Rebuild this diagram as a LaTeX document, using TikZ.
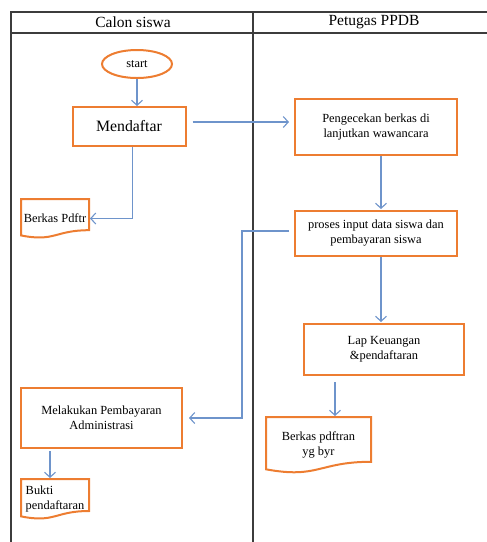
\documentclass[tikz,border=0pt]{standalone}
\usepackage{fontspec}
\setmainfont{Liberation Serif}
\usetikzlibrary{shapes.geometric,arrows.meta,calc}

\definecolor{flowOrange}{RGB}{237,125,49}
\definecolor{flowBlue}{RGB}{110,148,203}
\definecolor{laneGray}{RGB}{60,60,60}

% document symbol drawn round a named node
\newcommand{\docshape}[1]{%
  \draw[docline] (#1.north west) -- (#1.north east)
    -- ($(#1.north east)!0.80!(#1.south east)$)
    .. controls ($(#1.north)!0.80!(#1.south)$) and ($(#1.north)!1.107!(#1.south)$)
    .. ($(#1.north west)!0.934!(#1.south west)$) -- cycle;}

\begin{document}
\begin{tikzpicture}[x=1pt, y=-1pt,
    lane/.style={laneGray, line width=1.3pt},
    proc/.style={draw=flowOrange, line width=2pt, rectangle, align=center,
        font=\fontsize{12.4}{15}\selectfont, inner sep=2pt},
    terminal/.style={draw=flowOrange, line width=2pt, ellipse,
        font=\fontsize{12.4}{15}\selectfont, minimum width=70pt, minimum height=28pt, inner sep=0pt},
    doc/.style={rectangle, outer sep=0pt, inner sep=1pt, align=center,
        font=\fontsize{12.4}{15}\selectfont},
    docline/.style={draw=flowOrange, line width=2pt},
    flow/.style={flowBlue, line width=1.1pt, -{Straight Barb[length=5pt,width=11pt]}}]

    \useasboundingbox (0,0) rectangle (487,542);

    % Swimlanes
    \draw[lane] (11,542) -- (11,12) -- (487,12);
    \draw[lane] (11,33) -- (487,33);
    \draw[lane] (253,12) -- (253,542);
    \node[font=\fontsize{15.5}{18}\selectfont] (laneA) at (133,22) {Calon siswa};
    \node[font=\fontsize{15.5}{18}\selectfont] (laneB) at (374,22) {Petugas PPDB};

    % Calon siswa
    \node[terminal] (start) at (137,64) {start};
    \node[proc, minimum width=113pt, minimum height=39pt,
        font=\fontsize{15.8}{18}\selectfont] (daftar) at (129,126.5) {Mendaftar};
    \node[doc, minimum width=68pt, minimum height=39pt] (pdftr) at (55,218.5) {Berkas Pdftr};
    \docshape{pdftr}
    \node[proc, minimum width=161pt, minimum height=60pt] (bayar) at (101.5,418)
        {Melakukan Pembayaran\\Administrasi};
    \node[doc, align=left, minimum width=68pt, minimum height=40pt] (bukti) at (55,499)
        {Bukti\\pendaftaran};
    \docshape{bukti}

    % Petugas PPDB
    \node[proc, minimum width=162pt, minimum height=56pt] (cek) at (376,127)
        {Pengecekan berkas di\\lanjutkan wawancara};
    \node[proc, minimum width=162pt, minimum height=45pt] (proses) at (376,233.5)
        {proses input data siswa dan\\pembayaran siswa};
    \node[proc, minimum width=160pt, minimum height=51pt] (lap) at (384,349.5)
        {Lap Keuangan\\\&pendaftaran};
    \node[doc, minimum width=105pt, minimum height=56pt] (byr) at (318.5,445)
        {Berkas pdftran\\yg byr};
    \docshape{byr}

    % Connectors
    \draw[flow] (start.south) -- (start.south |- daftar.north);
    \draw[flow, shorten <=6pt, shorten >=5pt] ([yshift=4.5pt]daftar.east) -- ([yshift=4.5pt]daftar.east -| cek.west);
    \draw[flow, shorten >=1pt] ([xshift=3.5pt]daftar.south) |- (pdftr.east);
    \draw[flow, shorten >=1pt] ([xshift=5pt]cek.south) -- ([xshift=5pt]proses.north);
    \draw[flow, shorten <=5pt, shorten >=6pt] ([yshift=2.5pt]proses.west) -- ++(-52,0) |- (bayar.east);
    \draw[flow, shorten >=1pt] ([xshift=5pt]proses.south) -- ([xshift=5pt]proses.south |- lap.north);
    \draw[flow, shorten <=6pt, shorten >=1pt] ([xshift=-49pt]lap.south) -- ([xshift=-49pt]lap.south |- byr.north);
    \draw[flow, shorten <=2pt, shorten >=1pt] ([xshift=-51.5pt]bayar.south) -- ([xshift=-51.5pt]bayar.south |- bukti.north);
\end{tikzpicture}
\end{document}
